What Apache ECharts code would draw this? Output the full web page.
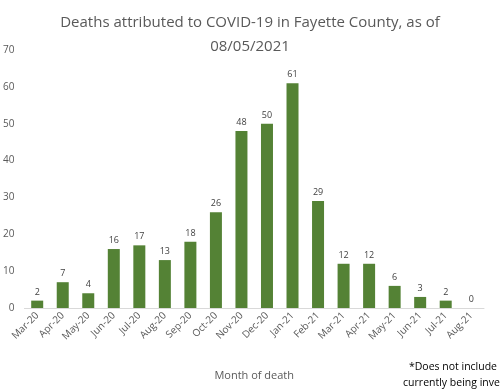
<!DOCTYPE html>
<html><head><meta charset="utf-8">
<script src="https://cdn.jsdelivr.net/npm/echarts@6/dist/echarts.min.js"></script>
<style>html,body{margin:0;padding:0;background:#fff}#c{width:500px;height:392px}</style>
</head><body><div id="c"></div>
<script>
const categories = ["Mar-20","Apr-20","May-20","Jun-20","Jul-20","Aug-20","Sep-20","Oct-20","Nov-20","Dec-20","Jan-21","Feb-21","Mar-21","Apr-21","May-21","Jun-21","Jul-21","Aug-21"];
const deaths = [2,7,4,16,17,13,18,26,48,50,61,29,12,12,6,3,2,0];
const titleText = "Deaths attributed to COVID-19 in Fayette County, as of\n08/05/2021";
const xTitle = "Month of death";
const footnote = "*Does not include deaths\ncurrently being investigated";

const chart = echarts.init(document.getElementById('c'));
chart.setOption({
  animation: false,
  title: {text: titleText, left: 'center', top: 6,
    textStyle: {fontFamily: 'Open Sans', fontSize: 15, fontWeight: 'normal', color: '#595959', lineHeight: 24}},
  grid: {left: 24, right: 16, top: 50, bottom: 84},
  xAxis: {type: 'category', data: categories,
    axisLine: {lineStyle: {color: '#d9d9d9'}}, axisTick: {show: false},
    axisLabel: {rotate: 45, color: '#595959', fontSize: 10, fontFamily: 'Open Sans', interval: 0, margin: 6},
    name: xTitle, nameLocation: 'middle', nameGap: 62,
    nameTextStyle: {color: '#595959', fontSize: 11, fontFamily: 'Open Sans'}},
  yAxis: {type: 'value', min: 0, max: 70, interval: 10,
    splitLine: {show: false}, axisLine: {show: false}, axisTick: {show: false},
    axisLabel: {color: '#595959', fontSize: 10, fontFamily: 'Open Sans', margin: 10}},
  series: [{type: 'bar', data: deaths, barWidth: 12,
    itemStyle: {color: '#548235'},
    label: {show: true, position: 'top', color: '#404040', fontSize: 9, fontFamily: 'Open Sans', distance: 4}}],
  graphic: [{type: 'text', x: 471, y: 359,
    style: {text: footnote, fill: '#000', font: '10.5px "Open Sans"', lineHeight: 16, align: 'center'}}]
});
</script></body></html>
